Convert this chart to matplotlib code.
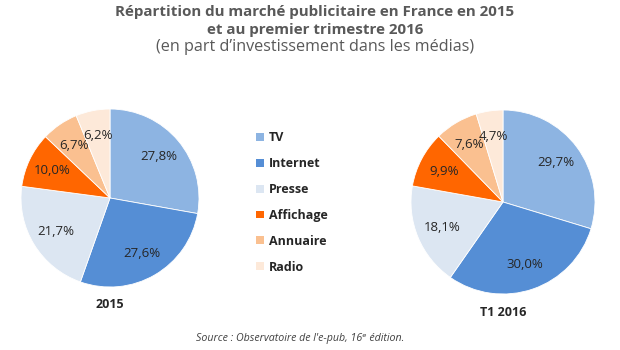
import matplotlib.pyplot as plt

# -------------------------------
# données
# -------------------------------
categories = ["TV", "Internet", "Presse", "Affichage", "Annuaire", "Radio"]
parts_2015 = [27.8, 27.6, 21.7, 10.0, 6.7, 6.2]
parts_t1_2016 = [29.7, 30.0, 18.1, 9.9, 7.6, 4.7]
colors = ["#8db4e2", "#558ed5", "#dce6f2", "#ff6600", "#fac090", "#fde9d9"]

plt.rcParams["font.family"] = ["Open Sans", "DejaVu Sans"]
W, H = 620, 350
fig = plt.figure(figsize=(W / 100, H / 100), dpi=100)
fig.patch.set_facecolor("white")


def pie_at(cx, cy, r, values, title, title_y):
    ax = fig.add_axes([(cx - r) / W, (H - cy - r) / H, 2 * r / W, 2 * r / H])
    labels = [f"{v:.1f}%".replace(".", ",") for v in values]
    wedges, texts = ax.pie(values, colors=colors, labels=labels, labeldistance=0.72,
                           startangle=90, counterclock=False,
                           wedgeprops=dict(edgecolor="white", linewidth=0.6))
    for t in texts:
        t.set_ha("center")
        t.set_va("center")
        t.set_fontsize(9.5)
        t.set_color("#262626")
    ax.set_xlim(-1, 1)
    ax.set_ylim(-1, 1)
    ax.set_aspect("equal")
    ax.axis("off")
    fig.text(cx / W, 1 - title_y / H, title, ha="center", va="center",
             fontsize=9, fontweight="bold", color="#262626")
    return wedges


wedges = pie_at(110, 198, 89, parts_2015, "2015", 305)
pie_at(503, 202, 92, parts_t1_2016, "T1 2016", 313)

# -------------------------------
# titres
# -------------------------------
fig.text(0.508, 1 - 12 / H, "Répartition du marché publicitaire en France en 2015",
         ha="center", va="center", fontsize=10.9, fontweight="bold", color="#595959")
fig.text(0.508, 1 - 30 / H, "et au premier trimestre 2016",
         ha="center", va="center", fontsize=10.9, fontweight="bold", color="#595959")
fig.text(0.508, 1 - 47 / H, "(en part d’investissement dans les médias)",
         ha="center", va="center", fontsize=11.6, color="#595959")
fig.text(0.484, 1 - 338 / H, "Source : Observatoire de l'e-pub, 16ᵉ édition.",
         ha="center", va="center", fontsize=7.7, style="italic", color="#404040")

leg = fig.legend(wedges, categories, loc="upper left", bbox_to_anchor=(245 / W, 1 - 120 / H),
                 frameon=False, handlelength=0.6, handleheight=0.6, handletextpad=0.4,
                 labelspacing=1.03, prop=dict(weight="bold", size=9))
for t in leg.get_texts():
    t.set_color("#262626")
for h in leg.legend_handles:
    h.set_edgecolor("none")

plt.savefig("out.png", dpi=100)
